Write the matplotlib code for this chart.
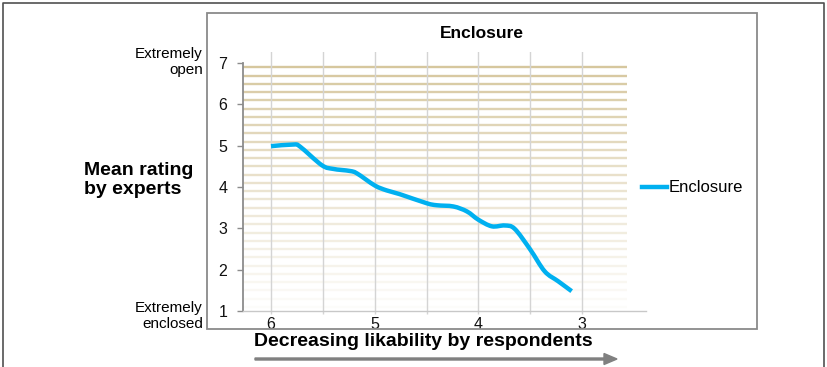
import matplotlib
matplotlib.use("Agg")
import matplotlib.pyplot as plt
from matplotlib.patches import FancyArrow, PathPatch
from matplotlib.path import Path
from matplotlib.lines import Line2D

plt.rcParams['font.family'] = ['Liberation Sans', 'DejaVu Sans']

# ---- data ----
series_name = "Enclosure"
likability = [6.00, 5.785, 5.72, 5.51, 5.40, 5.24, 5.17, 5.00, 4.885, 4.76, 4.50,
              4.40, 4.24, 4.11, 4.00, 3.87, 3.745, 3.65, 3.50, 3.36, 3.23, 3.10]
mean_rating = [4.99, 5.03, 4.98, 4.53, 4.44, 4.39, 4.33, 4.04, 3.92, 3.83, 3.61,
               3.56, 3.53, 3.41, 3.21, 3.05, 3.07, 2.99, 2.49, 1.96, 1.72, 1.48]
x_ticks = [6, 5, 4, 3]
x_minor = [5.5, 4.5, 3.5]
y_ticks = [1, 2, 3, 4, 5, 6, 7]
band_levels = [6.9 - 0.2 * k for k in range(30)]

LINE_COLOR = '#00B0F0'
W, H = 828, 367
fig = plt.figure(figsize=(W / 100, H / 100), dpi=100)

def fx(px):
    return px / W

def fy(py):
    return 1 - py / H

# axes placement
ax_left, ax_right, ax_top, ax_bottom = 243, 646, 52, 311
ax = fig.add_axes([fx(ax_left), fy(ax_bottom), (ax_right - ax_left) / W, (ax_bottom - ax_top) / H])
ax.set_xlim(6.27, 2.383)
ax.set_ylim(1, 7.27)

# tan gradient bands
n = len(band_levels)
for i, lv in enumerate(band_levels):
    a = 1.0 - 0.95 * (i / (n - 1)) ** 0.9
    ax.hlines(lv, 6.27, 2.566, color=(0.84, 0.78, 0.62, a), lw=1.7, zorder=1)

# vertical gridlines
ax.set_xticks(x_ticks)
ax.set_xticks(x_minor, minor=True)
ax.grid(axis='x', which='both', color='#d4d4d4', lw=1.0, zorder=0.5)
ax.grid(axis='y', visible=False)

# smoothed line (Excel-style smoothing: Catmull-Rom through the data points, as Bezier path)
pts = list(zip(likability, mean_rating))
verts = [pts[0]]
codes = [Path.MOVETO]
t = 1.0 / 6.0
for i in range(len(pts) - 1):
    p0 = pts[i - 1] if i > 0 else pts[i]
    p1 = pts[i]
    p2 = pts[i + 1]
    p3 = pts[i + 2] if i + 2 < len(pts) else pts[i + 1]
    c1 = (p1[0] + (p2[0] - p0[0]) * t, p1[1] + (p2[1] - p0[1]) * t)
    c2 = (p2[0] - (p3[0] - p1[0]) * t, p2[1] - (p3[1] - p1[1]) * t)
    verts += [c1, c2, p2]
    codes += [Path.CURVE4] * 3
ax.add_patch(PathPatch(Path(verts, codes), fill=False, edgecolor=LINE_COLOR, lw=3.2,
                       joinstyle='round', capstyle='butt', zorder=3))
ax.plot([], [], color=LINE_COLOR, lw=3.2, label=series_name)

ax.set_yticks(y_ticks)
for s in ['top', 'right']:
    ax.spines[s].set_visible(False)
ax.spines['left'].set_bounds(1, 7)
ax.spines['left'].set_color('#8c8c8c')
ax.spines['left'].set_linewidth(1.3)
ax.spines['bottom'].set_color('#c8c8c8')
ax.spines['bottom'].set_linewidth(1.0)
ax.tick_params(axis='y', direction='out', length=4.3, width=1.0, color='#8c8c8c',
               pad=7, labelsize=11.5, labelcolor='#111111')
ax.tick_params(axis='x', which='both', direction='out', length=2, width=1.0, color='#d4d4d4',
               pad=2, labelsize=11.5, labelcolor='#111111')
ax.set_facecolor('none')

# legend
leg = ax.legend(loc='center left', bbox_to_anchor=(fx(642), fy(188)), bbox_transform=fig.transFigure,
                frameon=False, fontsize=12, handlelength=1.5, handletextpad=0.1,
                borderpad=0, borderaxespad=0)

# texts
fig.text(fx(482), fy(34), "Enclosure", ha='center', va='center', fontsize=12.5, fontweight='bold')
fig.text(fx(203), fy(62), "Extremely\nopen", ha='right', va='center', fontsize=11, multialignment='right')
fig.text(fx(203), fy(316), "Extremely\nenclosed", ha='right', va='center', fontsize=11, multialignment='right')
fig.text(fx(84), fy(180), "Mean rating\nby experts", ha='left', va='center', fontsize=14,
         fontweight='bold', multialignment='left')
fig.text(fx(423), fy(342), "Decreasing likability by respondents", ha='center', va='center',
         fontsize=14, fontweight='bold')

# arrow
fig.patches.append(FancyArrow(fx(255), fy(359), fx(617 - 255), 0, width=2 / H, head_width=11 / H,
                              head_length=13 / W, length_includes_head=True, color='#808080',
                              transform=fig.transFigure, figure=fig))

# inner chart frame
fig.add_artist(plt.Rectangle((fx(207), fy(329)), (757 - 207) / W, (329 - 13) / H, fill=False,
                             edgecolor='#8a8a8a', lw=1.3, transform=fig.transFigure))
# outer frame (left, top, right)
fig.add_artist(Line2D([fx(3), fx(3), fx(824), fx(824)], [fy(370), fy(3), fy(3), fy(370)],
                      color='#505050', lw=1.2, transform=fig.transFigure))

fig.savefig("out.png", dpi=100)
